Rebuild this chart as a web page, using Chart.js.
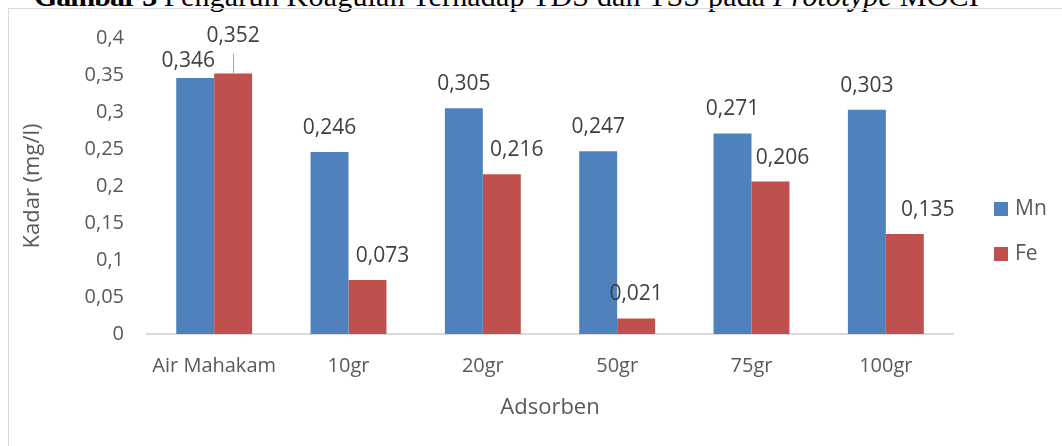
<!DOCTYPE html>
<html>
<head>
<meta charset="utf-8">
<script src="https://cdn.jsdelivr.net/npm/chart.js@4.4.1/dist/chart.umd.min.js"></script>
<style>
  html, body { margin: 0; padding: 0; background: #fff; }
  #wrap { position: relative; width: 1062px; height: 446px; overflow: hidden; }
  #caption {
    position: absolute; left: 34px; top: -19px;
    font-family: "Liberation Serif", "Times New Roman", serif;
    font-size: 30px; line-height: 30px; white-space: nowrap; color: #000;
    letter-spacing: 0.2px;
  }
  #caption b { letter-spacing: -1px; }
  #frame {
    position: absolute; left: 8px; top: 8px; width: 1100px; height: 500px;
    border-left: 1px solid #d9d9d9; border-top: 1px solid #d9d9d9;
  }
  canvas { position: absolute; left: 0; top: 0; }
</style>
</head>
<body>
<div id="wrap">
  <div id="caption"><b>Gambar 3</b>&nbsp;Pengaruh Koagulan Terhadap TDS dan TSS pada <i>Prototype</i> MOCI</div>
  <div id="frame"></div>
  <canvas id="c" width="1062" height="446"></canvas>
</div>
<script>
// Adsorbent dose groups
const categories = ['Air Mahakam', '10gr', '20gr', '50gr', '75gr', '100gr'];
// Concentrations in mg/l
const mnValues = [0.346, 0.246, 0.305, 0.247, 0.271, 0.303];
const feValues = [0.352, 0.073, 0.216, 0.021, 0.206, 0.135];
// Y axis tick text (comma decimals)
const yTickLabels = ['0', '0,05', '0,1', '0,15', '0,2', '0,25', '0,3', '0,35', '0,4'];

const FONT = '"Open Sans", "Noto Sans", sans-serif';
const TEXT_GREY = '#595959';

// Value labels above each bar, with a few nudged to avoid overlaps
const valueLabels = {
  id: 'valueLabels',
  afterDatasetsDraw(chart, args, opts) {
    const ctx = chart.ctx;
    ctx.save();
    ctx.font = '21px ' + FONT;
    ctx.fillStyle = '#404040';
    ctx.textAlign = 'center';
    ctx.textBaseline = 'middle';
    chart.data.datasets.forEach((ds, di) => {
      const meta = chart.getDatasetMeta(di);
      meta.data.forEach((bar, i) => {
        const nudge = (opts.nudges[di] && opts.nudges[di][i]) || [0, 0];
        const x = bar.x + nudge[0];
        const y = bar.y - opts.gap + nudge[1];
        const txt = ds.data[i].toFixed(3).replace('.', ',');
        ctx.fillText(txt, x, y);
        if (nudge[2]) {
          ctx.strokeStyle = '#a6a6a6';
          ctx.lineWidth = 1;
          ctx.beginPath();
          ctx.moveTo(Math.round(x) + 0.5, y + 18);
          ctx.lineTo(Math.round(x) + 0.5, bar.y);
          ctx.stroke();
        }
      });
    });
    ctx.restore();
  }
};

// Legend at the right side, squares + series names
const sideLegend = {
  id: 'sideLegend',
  afterDraw(chart, args, opts) {
    const ctx = chart.ctx;
    ctx.save();
    ctx.font = '21px ' + FONT;
    ctx.textAlign = 'left';
    ctx.textBaseline = 'middle';
    chart.data.datasets.forEach((ds, i) => {
      const top = opts.top + i * opts.step;
      ctx.fillStyle = ds.backgroundColor;
      ctx.fillRect(opts.left, top, 14, 14);
      ctx.fillStyle = TEXT_GREY;
      ctx.fillText(ds.label, opts.left + 21, top + 7);
    });
    ctx.restore();
  }
};

new Chart(document.getElementById('c'), {
  type: 'bar',
  data: {
    labels: categories,
    datasets: [
      { label: 'Mn', data: mnValues, backgroundColor: '#4F81BD', borderWidth: 0 },
      { label: 'Fe', data: feValues, backgroundColor: '#C0504D', borderWidth: 0 }
    ]
  },
  options: {
    responsive: false,
    devicePixelRatio: 1,
    animation: false,
    datasets: { bar: { categoryPercentage: 0.565, barPercentage: 1 } },
    layout: { padding: { left: 8, right: 109, top: 38, bottom: 0 } },
    plugins: {
      legend: { display: false },
      title: { display: false },
      tooltip: { enabled: false },
      valueLabels: {
        gap: 24,
        nudges: [
          [[-7, 7]],
          [[0, -14, 1], [15, 0], [15, 0], [0, 0], [12, 0], [23, 0]]
        ]
      },
      sideLegend: { left: 994, top: 202, step: 45 }
    },
    scales: {
      x: {
        grid: { display: false, drawTicks: false },
        border: { display: true, color: '#d9d9d9', width: 2 },
        ticks: { color: TEXT_GREY, font: { family: FONT, size: 20 }, padding: 20, maxRotation: 0 },
        title: {
          display: true, text: 'Adsorben', color: TEXT_GREY,
          font: { family: FONT, size: 22 }, padding: { top: 0, bottom: 25 }
        },
        afterFit(scale) { scale.height = 112; }
      },
      y: {
        min: 0, max: 0.4,
        grid: { display: false, drawTicks: false },
        border: { display: false },
        ticks: {
          stepSize: 0.05, color: TEXT_GREY, font: { family: FONT, size: 20 }, padding: 23,
          callback: (v, i) => yTickLabels[i]
        },
        title: {
          display: true, text: 'Kadar (mg/l)', color: TEXT_GREY,
          font: { family: FONT, size: 22 }, padding: { top: 12, bottom: 0 }
        },
        afterFit(scale) { scale.width = 139; }
      }
    }
  },
  plugins: [valueLabels, sideLegend]
});
</script>
</body>
</html>
